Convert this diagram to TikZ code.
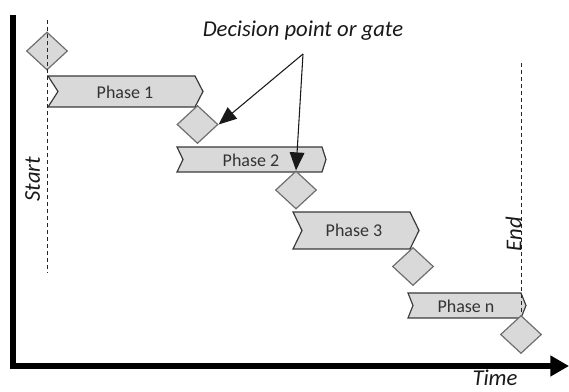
\documentclass[tikz,border=0pt]{standalone}
\usepackage{fontspec}
\setmainfont{Carlito}
\usetikzlibrary{shapes.geometric,arrows.meta}
\definecolor{boxfill}{HTML}{D9D9D9}
\definecolor{boxline}{HTML}{3A3A3A}
\definecolor{gateline}{HTML}{6E6E6E}
\begin{document}
\begin{tikzpicture}[x=0.75pt,y=-0.75pt,
  phasebox/.style={fill=boxfill,draw=boxline,line width=0.9pt,line join=miter},
  phasetext/.style={inner sep=0pt,text=black!80,font=\fontsize{13.5}{16}\selectfont},
  gate/.style={diamond,fill=boxfill,draw=gateline,line width=0.9pt,inner sep=0pt,
    minimum width=30.75pt,minimum height=28.5pt},
  milestone/.style={draw=black!85,line width=0.75pt,dash pattern=on 3pt off 2.25pt},
  axislabel/.style={inner sep=0pt,text=black!90,font=\fontsize{17}{20}\selectfont\itshape},
  callout/.style={draw=black!90,line width=0.8pt,-{Triangle[length=13.5pt,width=11pt]}},
  axis/.style={draw=black,line width=4.8pt,line join=miter,-{Triangle[length=14pt,width=15pt]}}
]
\useasboundingbox (0,0) rectangle (569,392);

% phase chevrons
\path[phasebox] (48,76) -- (195,76) -- (203,91.5) -- (195,107) -- (48,107) -- (58,91.5) -- cycle;
\node[phasetext] (p1) at (125,92) {Phase 1};
\path[phasebox] (177,147) -- (322,147) -- (326,159.5) -- (322,172) -- (177,172) -- (183,159.5) -- cycle;
\node[phasetext] (p2) at (251,160) {Phase 2};
\path[phasebox] (293,212) -- (410,212) -- (419,230.5) -- (410,249) -- (293,249) -- (302,230.5) -- cycle;
\node[phasetext] (p3) at (354,230.5) {Phase 3};
\path[phasebox] (408,293) -- (521,293) -- (526,305.5) -- (521,318) -- (408,318) -- (413,305.5) -- cycle;
\node[phasetext] (pn) at (466,306) {Phase n};

% decision gates
\node[gate] (d1) at (47,51) {};
\node[gate] (d2) at (197.5,124.5) {};
\node[gate] (d3) at (296,190) {};
\node[gate] (d4) at (413,266.5) {};
\node[gate] (d5) at (521,334.5) {};

% start and end markers
\coordinate (s0) at (47,20);
\coordinate (s1) at (47,273);
\draw[milestone] (s0) -- (s1);
\coordinate (e0) at (521,63);
\draw[milestone] (e0) -- (d5.north);
\node[axislabel,rotate=90] (start) at (32.5,179) {Start};
\node[axislabel,rotate=90] (end) at (513.5,234) {End};

% axes
\coordinate (ytop) at (13,15);
\coordinate (orig) at (13,366);
\coordinate (xend) at (569,366);
\draw[axis] (ytop) -- (orig) -- (xend);
\node[axislabel,anchor=base] (time) at (495,386) {Time};

% callout
\node[axislabel,anchor=base] (gatelabel) at (303,37) {Decision point or gate};
\coordinate (src) at (303,54);
\draw[callout] (src) -- (d2.east);
\draw[callout] (src) -- (d3.north);
\end{tikzpicture}
\end{document}
